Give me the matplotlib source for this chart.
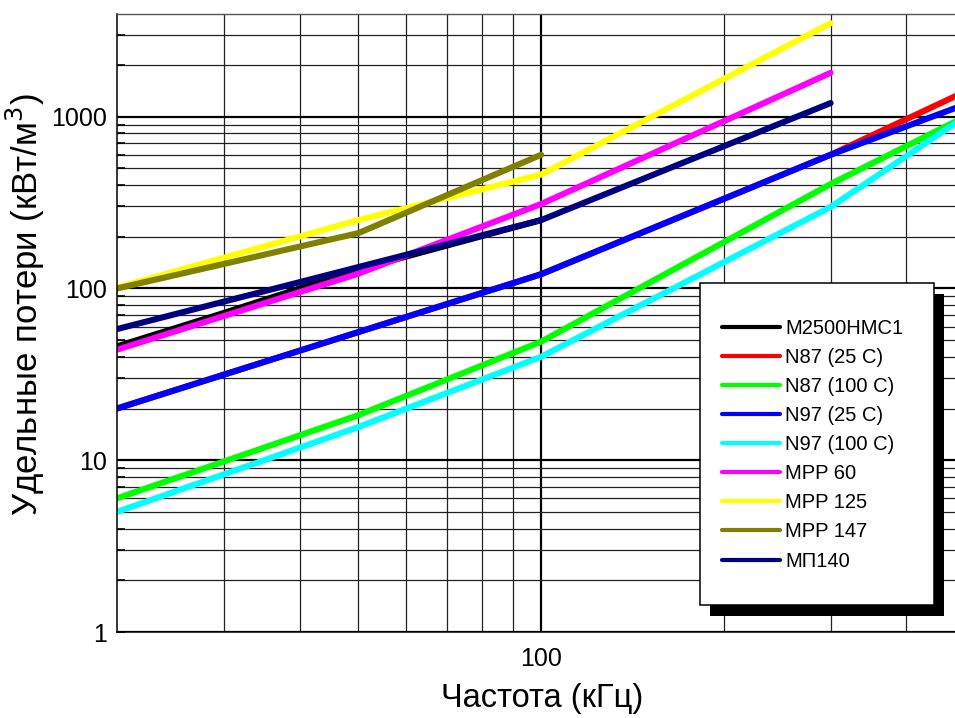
import matplotlib as mpl
mpl.rcParams['font.family'] = ['Liberation Sans', 'DejaVu Sans']
import matplotlib.pyplot as plt
from matplotlib.patches import Rectangle
from matplotlib.ticker import FixedLocator, NullFormatter, FixedFormatter

# %% data, frequency in kHz, loss in kW/m^3
names = ['M2500НМС1', 'N87 (25 C)', 'N87 (100 C)', 'N97 (25 C)', 'N97 (100 C)',
         'MPP 60', 'MPP 125', 'MPP 147', 'МП140']
colors = ['#000000', '#ff0000', '#00ff00', '#0000ff', '#00ffff',
          '#ff00ff', '#ffff00', '#808000', '#000080']

f_m2500 = [20, 30, 50, 100]
p_m2500 = [46, 72, 129, 250]
f_n87_25 = [20, 100, 300, 500]
p_n87_25 = [20, 121, 600, 1400]
f_n87_100 = [20, 50, 100, 300, 500]
p_n87_100 = [6, 18.3, 49, 405, 1000]
f_n97_25 = [20, 100, 300, 500]
p_n97_25 = [20, 121, 600, 1180]
f_n97_100 = [20, 50, 100, 300, 500]
p_n97_100 = [5, 15.6, 40, 298, 1000]
f_mpp60 = [20, 50, 100, 300]
p_mpp60 = [44, 122, 310, 1800]
f_mpp125 = [20, 50, 100, 300]
p_mpp125 = [101, 250, 460, 3500]
f_mpp147 = [20, 50, 100]
p_mpp147 = [100, 210, 600]
f_mp140 = [20, 100, 300]
p_mp140 = [58, 250, 1200]

series = [(f_m2500, p_m2500), (f_n87_25, p_n87_25), (f_n87_100, p_n87_100),
          (f_n97_25, p_n97_25), (f_n97_100, p_n97_100), (f_mpp60, p_mpp60),
          (f_mpp125, p_mpp125), (f_mpp147, p_mpp147), (f_mp140, p_mp140)]

y_ticks = [1, 10, 100, 1000]
y_labels = ['1', '10', '100', '1000']
x_ticks = [100]
x_labels = ['100']

# %% plot
W, H = 955, 718
fig = plt.figure(figsize=(W / 100, H / 100), dpi=100)
ax_l, ax_b, ax_w, ax_h = 117, 86, 838, 618
ax = fig.add_axes([ax_l / W, ax_b / H, ax_w / W, ax_h / H])
ax.set_xscale('log')
ax.set_yscale('log')

for (f, p), name, c in zip(series, names, colors):
    ax.plot(f, p, color=c, lw=4.4, label=name,
            solid_capstyle='round', solid_joinstyle='round')

ax.set_xlim(20, 481)
ax.set_ylim(1, 3960)

ax.xaxis.set_major_locator(FixedLocator(x_ticks))
ax.xaxis.set_major_formatter(FixedFormatter(x_labels))
ax.xaxis.set_minor_locator(FixedLocator([30, 40, 50, 60, 70, 80, 90, 200, 300, 400]))
ax.xaxis.set_minor_formatter(NullFormatter())
ax.yaxis.set_major_locator(FixedLocator(y_ticks))
ax.yaxis.set_major_formatter(FixedFormatter(y_labels))
ax.yaxis.set_minor_locator(FixedLocator(
    [m * 10 ** d for d in range(4) for m in range(2, 10)]))
ax.yaxis.set_minor_formatter(NullFormatter())

ax.grid(which='major', color='black', lw=1.6, zorder=0)
ax.grid(which='minor', color='#222222', lw=0.9, zorder=0)
ax.set_axisbelow(True)

ax.tick_params(axis='y', which='both', direction='in', length=6, width=1.2,
               labelsize=18, pad=7)
ax.tick_params(axis='x', which='both', length=0, labelsize=18, pad=11)

for s in ['left', 'bottom']:
    ax.spines[s].set_color('black')
    ax.spines[s].set_linewidth(1.1)
ax.spines['top'].set_color('#555555')
ax.spines['top'].set_linewidth(1.0)
ax.spines['right'].set_visible(False)

ax.set_xlabel('Частота (кГц)', fontsize=23.5)
ax.set_ylabel('Удельные потери (кВт/м$^3$)', fontsize=25)
ax.xaxis.set_label_coords(0.507, -0.082)
ax.yaxis.set_label_coords(-0.083, 0.53)

# legend box with a hard black shadow (pixel positions -> axes fraction)
def px2ax(x, y):
    return (x - ax_l) / ax_w, (H - ax_b - y) / ax_h

bx0, by0 = px2ax(700, 605)
bx1, by1 = px2ax(934, 283)
sdx, sdy = 10 / ax_w, 11 / ax_h
ax.add_patch(Rectangle((bx0 + sdx, by0 - sdy), bx1 - bx0, by1 - by0,
                       transform=ax.transAxes, facecolor='black',
                       edgecolor='black', lw=0, zorder=5))
ax.add_patch(Rectangle((bx0, by0), bx1 - bx0, by1 - by0,
                       transform=ax.transAxes, facecolor='white',
                       edgecolor='black', lw=1.1, zorder=5.5))

leg = ax.legend(loc='upper left', bbox_to_anchor=px2ax(722, 319),
                borderaxespad=0, borderpad=0, fontsize=14.5, frameon=False,
                labelspacing=0.5, handlelength=2.9, handletextpad=0.25)
leg.set_zorder(6)
for line in leg.get_lines():
    line.set_linewidth(3.0)
    line.set_solid_capstyle('round')

fig.savefig('out.png', dpi=100)
